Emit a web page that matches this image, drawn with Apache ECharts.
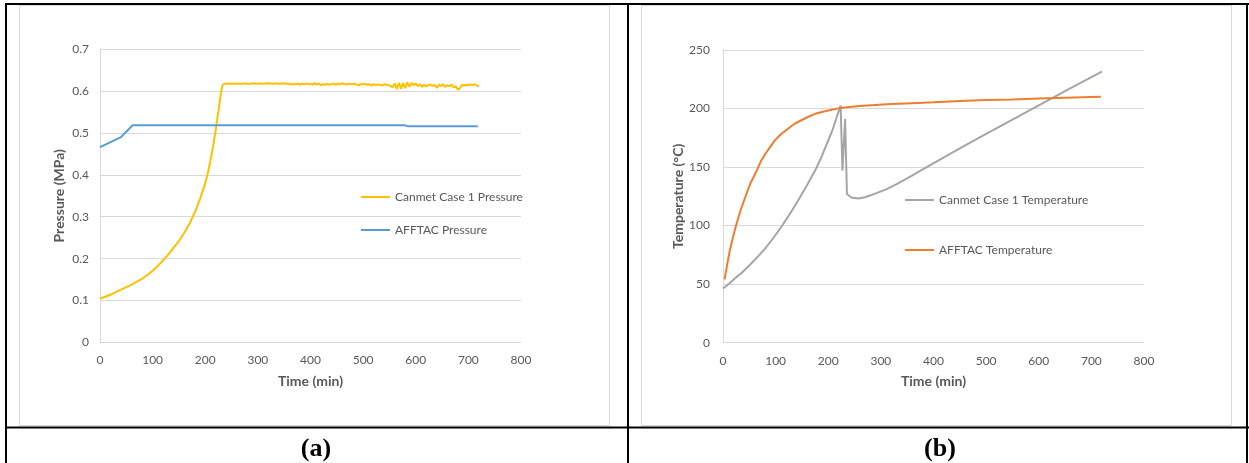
<!DOCTYPE html>
<html>
<head>
<meta charset="utf-8">
<title>Pressure and temperature vs time</title>
<script src="https://cdn.jsdelivr.net/npm/echarts@6/dist/echarts.min.js"></script>
<style>
  html, body { margin: 0; padding: 0; background: #ffffff; }
  #chart { width: 1249px; height: 463px; }
</style>
</head>
<body>
<div id="chart"></div>
<script>
// ---- Data: [time (min), value] ----
const timeTicks = [0, 100, 200, 300, 400, 500, 600, 700, 800];
const pressureTicks = [0, 0.1, 0.2, 0.3, 0.4, 0.5, 0.6, 0.7];
const temperatureTicks = [0, 50, 100, 150, 200, 250];

const canmetPressure = [
  [0, 0.105], [10, 0.109], [20, 0.114], [30, 0.12], [40, 0.126], [50, 0.132],
  [60, 0.138], [70, 0.145], [80, 0.152], [90, 0.161], [100, 0.171], [110, 0.183],
  [120, 0.196], [130, 0.21], [140, 0.226], [150, 0.242], [160, 0.261], [170, 0.283],
  [180, 0.31], [190, 0.342], [200, 0.38], [205, 0.405], [210, 0.434], [215, 0.468],
  [220, 0.508], [225, 0.552], [230, 0.598], [233, 0.615], [236, 0.619],
  [240, 0.6175], [244, 0.617], [248, 0.6175], [252, 0.617], [256, 0.6178], [260, 0.617],
  [264, 0.6172], [268, 0.6168], [272, 0.6175], [276, 0.6178], [280, 0.6172], [284, 0.6168],
  [288, 0.6175], [292, 0.6182], [296, 0.6175], [300, 0.6172], [304, 0.618], [308, 0.6175],
  [312, 0.617], [316, 0.6178], [320, 0.6182], [324, 0.6175], [328, 0.617], [332, 0.6175],
  [336, 0.6178], [340, 0.6172], [344, 0.6178], [348, 0.6182], [352, 0.6176], [356, 0.6172],
  [360, 0.6168], [364, 0.6155], [368, 0.6165], [372, 0.6158], [376, 0.617], [380, 0.6148],
  [384, 0.6175], [388, 0.6158], [392, 0.618], [396, 0.6162], [400, 0.6168], [404, 0.6148],
  [408, 0.6185], [412, 0.6152], [416, 0.6178], [420, 0.6135], [424, 0.6165], [428, 0.6142],
  [432, 0.617], [436, 0.6148], [440, 0.6162], [444, 0.6175], [448, 0.6145], [452, 0.6178],
  [456, 0.6158], [460, 0.6182], [464, 0.6165], [468, 0.6152], [472, 0.6172], [476, 0.6165],
  [480, 0.6158], [484, 0.6175], [488, 0.6145], [492, 0.6132], [496, 0.6165], [500, 0.6158],
  [504, 0.6168], [508, 0.6148], [512, 0.6165], [516, 0.6125], [520, 0.6162], [524, 0.6138],
  [528, 0.6152], [532, 0.6145], [536, 0.6128], [540, 0.6158], [544, 0.6148], [548, 0.6135],
  [552, 0.6118], [556, 0.6085], [560, 0.6178], [564, 0.6045], [568, 0.6195], [572, 0.6052],
  [576, 0.6185], [580, 0.6065], [584, 0.6205], [588, 0.6098], [592, 0.6188], [596, 0.6135],
  [600, 0.6178], [604, 0.6112], [608, 0.6162], [612, 0.6095], [616, 0.6148], [620, 0.6108],
  [624, 0.6135], [628, 0.6152], [632, 0.6122], [636, 0.6142], [640, 0.6072], [644, 0.6148],
  [648, 0.6118], [652, 0.6155], [656, 0.6098], [660, 0.6138], [664, 0.6115], [668, 0.6148],
  [672, 0.6085], [676, 0.6112], [680, 0.6028], [684, 0.6065], [688, 0.6145], [692, 0.6128],
  [696, 0.6148], [700, 0.6135], [704, 0.6152], [708, 0.6138], [712, 0.6162], [716, 0.6125],
  [720, 0.6105]
];

const afftacPressure = [
  [0, 0.466], [20, 0.478], [40, 0.49], [62, 0.518], [580, 0.518], [584, 0.516], [718, 0.516]
];

const canmetTemperature = [
  [0, 46.3], [12, 50.5], [23, 55], [35, 59.5], [48, 65], [64, 72.5], [80, 80.4],
  [95, 89], [111, 99], [127, 110], [143, 121.6], [159, 134], [175, 147], [188, 159.5],
  [200, 172.7], [208, 181.5], [216, 192.6], [220, 198], [223.5, 202.6], [227, 147],
  [232, 191], [235.5, 127], [244, 124], [257, 123.2], [270, 124.2], [289, 127.3],
  [310, 131], [330, 135.5], [360, 143], [387, 150], [450, 166], [500, 178.3],
  [550, 190.5], [600, 202.7], [650, 214.8], [700, 226.8], [720, 231.5]
];

const afftacTemperature = [
  [3, 54], [8, 67], [13, 79], [20, 92], [26, 102], [34, 114], [42, 124], [52, 136],
  [64, 147], [72, 155], [80, 161], [90, 167.5], [99, 173], [110, 178], [124, 183],
  [136, 187], [149, 190], [162, 193], [175, 195.5], [188, 197], [200, 198.3],
  [212, 199.5], [223, 200.5], [240, 201.3], [260, 202.2], [289, 203], [320, 203.8],
  [360, 204.6], [400, 205.3], [450, 206.4], [500, 207.2], [550, 207.8], [600, 208.5],
  [650, 209.2], [700, 209.8], [718, 210]
];

// ---- Styling ----
const FONT = 'Lato, "Open Sans", sans-serif';
const TEXT = '#595959';
const GRIDLINE = '#d9d9d9';

function timeAxis(gridIndex) {
  return {
    type: 'value', gridIndex: gridIndex,
    min: timeTicks[0], max: timeTicks[timeTicks.length - 1],
    interval: timeTicks[1] - timeTicks[0],
    name: 'Time (min)', nameLocation: 'middle', nameGap: 32,
    nameTextStyle: { color: TEXT, fontFamily: FONT, fontSize: 14, fontWeight: 'bold' },
    axisLine: { show: true, lineStyle: { color: GRIDLINE, width: 1 } },
    axisTick: { show: false },
    splitLine: { show: false },
    axisLabel: { color: TEXT, fontFamily: FONT, fontSize: 12, margin: 12 }
  };
}

function valueAxis(gridIndex, ticks, title, gap, labelMargin) {
  return {
    type: 'value', gridIndex: gridIndex,
    min: ticks[0], max: ticks[ticks.length - 1],
    interval: ticks[1] - ticks[0],
    name: title, nameLocation: 'middle', nameGap: gap,
    nameTextStyle: { color: TEXT, fontFamily: FONT, fontSize: 14, fontWeight: 'bold' },
    axisLine: { show: true, lineStyle: { color: GRIDLINE, width: 1 } },
    axisTick: { show: false },
    splitLine: { show: true, lineStyle: { color: GRIDLINE, width: 1 } },
    axisLabel: {
      color: TEXT, fontFamily: FONT, fontSize: 12, margin: labelMargin,
      formatter: function (v) { return String(Math.round(v * 1000) / 1000); }
    }
  };
}

function lineSeries(name, data, color, axisIndex) {
  return {
    type: 'line', name: name, data: data,
    xAxisIndex: axisIndex, yAxisIndex: axisIndex,
    showSymbol: false, symbol: 'none', smooth: false,
    itemStyle: { color: color },
    lineStyle: { color: color, width: 2 },
    emphasis: { disabled: true },
    animation: false, z: 3
  };
}

function legendBlock(names, left, top, gap) {
  return {
    orient: 'vertical', left: left, top: top, padding: 0,
    itemGap: gap, itemWidth: 29, itemHeight: 2, icon: 'rect',
    selectedMode: false, data: names,
    textStyle: { color: TEXT, fontFamily: FONT, fontSize: 12, lineHeight: 14 }
  };
}

// Table frame, chart borders and panel captions
const frameLine = { stroke: '#000000', lineWidth: 2 };
const captionFont = 'bold 26px "Liberation Serif", "Times New Roman", serif';
const graphics = [
  { type: 'rect', shape: { x: 19.5, y: 5.5, width: 590, height: 420 },
    style: { fill: '#ffffff', stroke: GRIDLINE, lineWidth: 1 }, z: -10 },
  { type: 'rect', shape: { x: 641.5, y: 5.5, width: 590, height: 420 },
    style: { fill: '#ffffff', stroke: GRIDLINE, lineWidth: 1 }, z: -10 },
  { type: 'line', shape: { x1: 5, y1: 4, x2: 1249, y2: 4 }, style: frameLine, z: 10 },
  { type: 'line', shape: { x1: 6, y1: 3, x2: 6, y2: 463 }, style: frameLine, z: 10 },
  { type: 'line', shape: { x1: 628, y1: 3, x2: 628, y2: 463 }, style: frameLine, z: 10 },
  { type: 'line', shape: { x1: 1247, y1: 3, x2: 1247, y2: 463 }, style: frameLine, z: 10 },
  { type: 'line', shape: { x1: 5, y1: 427.5, x2: 1249, y2: 427.5 }, style: frameLine, z: 10 },
  { type: 'text', x: 316, y: 449, z: 10,
    style: { text: '(a)', x: 0, y: 0, align: 'center', verticalAlign: 'middle',
             font: captionFont, fill: '#000000' } },
  { type: 'text', x: 940, y: 449, z: 10,
    style: { text: '(b)', x: 0, y: 0, align: 'center', verticalAlign: 'middle',
             font: captionFont, fill: '#000000' } }
];

const chart = echarts.init(document.getElementById('chart'), null, { renderer: 'canvas' });
chart.setOption({
  backgroundColor: '#ffffff',
  animation: false,
  graphic: graphics,
  grid: [
    { left: 100, top: 49, width: 421, height: 293.5, containLabel: false },
    { left: 723, top: 50, width: 421, height: 292.7, containLabel: false }
  ],
  xAxis: [timeAxis(0), timeAxis(1)],
  yAxis: [
    valueAxis(0, pressureTicks, 'Pressure (MPa)', 34, 11),
    valueAxis(1, temperatureTicks, 'Temperature (°C)', 38, 13)
  ],
  legend: [
    legendBlock(['Canmet Case 1 Pressure', 'AFFTAC Pressure'], 361, 190, 19),
    legendBlock(['Canmet Case 1 Temperature', 'AFFTAC Temperature'], 905, 193, 36)
  ],
  series: [
    lineSeries('Canmet Case 1 Pressure', canmetPressure, '#FFC000', 0),
    lineSeries('AFFTAC Pressure', afftacPressure, '#5B9BD5', 0),
    lineSeries('Canmet Case 1 Temperature', canmetTemperature, '#A5A5A5', 1),
    lineSeries('AFFTAC Temperature', afftacTemperature, '#ED7D31', 1)
  ]
});
</script>
</body>
</html>
